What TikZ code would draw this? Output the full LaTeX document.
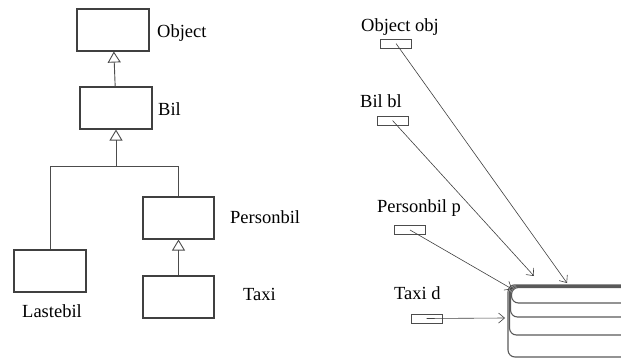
\documentclass[tikz,border=0pt]{standalone}
\usepackage{fontspec}
\setmainfont{Liberation Serif}
\usetikzlibrary{arrows.meta}
\begin{document}
\begin{tikzpicture}[x=1pt,y=-1pt,
  font=\fontsize{18.5}{20}\selectfont,
  klasse/.style={draw=black!75,line width=1.1pt,minimum width=72pt,minimum height=42pt,inner sep=0pt},
  variabel/.style={draw=black!70,line width=0.8pt,minimum width=31pt,minimum height=9pt,inner sep=0pt},
  tekst/.style={anchor=base west,inner sep=0pt},
  arv/.style={draw=black!70,line width=0.9pt,-{Triangle[open,length=11pt,width=13pt]}},
  ref/.style={draw=black!75,line width=0.6pt,-{Straight Barb[length=6pt,width=10pt]}}]
\useasboundingbox (0,0) rectangle (621,358);
% klassehierarki
\node[klasse] (object) at (113,30) {};
\node[klasse] (bil) at (116,108) {};
\node[klasse] (lastebil) at (50,271) {};
\node[klasse,minimum width=71pt] (personbil) at (178.5,218) {};
\node[klasse,minimum width=71pt] (taxi) at (178.5,297) {};
\node[tekst] (objectT) at (157,38) {Object};
\node[tekst] (bilT) at (158,116) {Bil};
\node[tekst] (personbilT) at (230,223) {Personbil};
\node[tekst] (taxiT) at (243,300) {Taxi};
\node[tekst,anchor=base] (lastebilT) at (52,317) {Lastebil};
\coordinate (deling) at (bil.south |- 0,166);
\draw[arv] (bil) -- (object);
\draw[arv] (taxi) -- (personbil);
\draw[arv] (deling) -- (bil.south);
\draw[draw=black!70,line width=0.9pt] (lastebil.north) |- (personbil.north |- deling) -- (personbil.north);
% variabler
\node[variabel] (obj) at (396,43.5) {};
\node[variabel] (bl) at (392.5,120.5) {};
\node[variabel] (p) at (410,230) {};
\node[variabel] (d) at (426.5,318.5) {};
\node[tekst] (objT) at (361,32) {Object obj};
\node[tekst] (blT) at (360,108) {Bil bl};
\node[tekst] (pT) at (377,212) {Personbil p};
\node[tekst] (dT) at (394,299) {Taxi d};
% objektet
\begin{scope}
\clip (480,270) rectangle (621,358);
\foreach \bunn/\venstre/\topp in {357/508/284.8,335/509.5/285.7,317/510.5/286.6,303/511.5/287.5}
  \draw[black!65,line width=1.1pt,rounded corners=7pt] (\venstre,\bunn) rectangle (660,\topp);
\end{scope}
\coordinate (objHit) at (567,283);
\coordinate (blHit) at (534,276);
\coordinate (pHit) at (512,289);
\coordinate (dHit) at (505,318);
\draw[ref] (obj.center) -- (objHit);
\draw[ref] (bl.center) -- (blHit);
\draw[ref] (p.center) -- (pHit);
\draw[ref] (d.center) -- (dHit);
\end{tikzpicture}
\end{document}
